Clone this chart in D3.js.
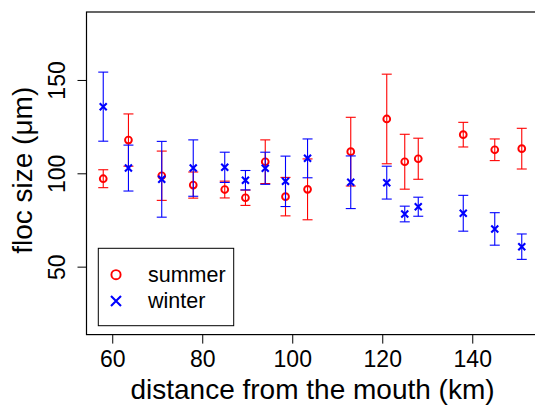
<!DOCTYPE html>
<html>
<head>
<meta charset="utf-8">
<script src="https://cdn.jsdelivr.net/npm/d3@7"></script>
<style>
  html, body { margin: 0; padding: 0; background: #fff; }
  svg { display: block; font-family: "Liberation Sans", Arial, Helvetica, sans-serif; }
</style>
</head>
<body>
<svg id="chart" width="535" height="406"></svg>
<script>
const distance = [58, 63.6, 71, 78, 85, 89.6, 94, 98.5, 103.4, 113, 121, 125, 128, 138, 145, 151];
const summerMean = [97.1, 117.8, 98.7, 93.7, 91.3, 86.9, 106.2, 87.5, 91.4, 111.6, 129.1, 106.2, 107.8, 120.7, 112.6, 113.2];
const summerErr  = [4.8, 14.0, 13.2, 7.0, 4.5, 4.1, 11.7, 10.3, 16.3, 18.4, 24.0, 14.7, 11.0, 6.6, 5.8, 10.9];
const winterMean = [135.7, 102.8, 96.8, 102.8, 103.2, 96.3, 102.7, 95.7, 108.0, 95.2, 95.0, 78.2, 82.1, 78.6, 70.2, 60.7];
const winterErr  = [18.5, 12.3, 20.3, 15.1, 8.1, 5.2, 8.6, 13.5, 10.4, 14.1, 8.8, 4.2, 5.1, 9.6, 8.7, 6.8];
const xTicks = [60, 80, 100, 120, 140];
const yTicks = [50, 100, 150];
const seriesNames = ["summer", "winter"];
const seriesColors = ["#ff0000", "#0000ff"];
const xTitle = "distance from the mouth (km)";
const yTitle = "floc size (\u03bcm)";

const svg = d3.select("#chart");
const plot = { left: 86.5, right: 538.5, top: 12, bottom: 334.6 };

const x = d3.scaleLinear().domain([54.28, 154.72]).range([plot.left, plot.right]);
const y = d3.scaleLinear().domain([13.6, 186.4]).range([plot.bottom, plot.top]);

function drawMarker(g, cx, cy, color, kind, size) {
  if (kind === "circle") {
    g.append("circle").attr("cx", cx).attr("cy", cy).attr("r", size)
      .attr("fill", "none").attr("stroke", color).attr("stroke-width", 1.9);
  } else {
    const s = size;
    g.append("path").attr("d", `M${cx - s},${cy - s}L${cx + s},${cy + s}M${cx - s},${cy + s}L${cx + s},${cy - s}`)
      .attr("fill", "none").attr("stroke", color).attr("stroke-width", 2.1);
  }
}

// error bars + points
function drawSeries(means, errs, color, kind) {
  const g = svg.append("g");
  const capHalf = 5;
  distance.forEach((d, i) => {
    const cx = x(d);
    const lo = y(means[i] - errs[i]);
    const hi = y(means[i] + errs[i]);
    g.append("line").attr("x1", cx).attr("x2", cx).attr("y1", lo).attr("y2", hi)
      .attr("stroke", color).attr("stroke-width", 1.1);
    g.append("line").attr("x1", cx - capHalf).attr("x2", cx + capHalf).attr("y1", lo).attr("y2", lo)
      .attr("stroke", color).attr("stroke-width", 1.1);
    g.append("line").attr("x1", cx - capHalf).attr("x2", cx + capHalf).attr("y1", hi).attr("y2", hi)
      .attr("stroke", color).attr("stroke-width", 1.1);
  });
  distance.forEach((d, i) => {
    drawMarker(g, x(d), y(means[i]), color, kind, kind === "circle" ? 3.4 : 3.5);
  });
}
drawSeries(summerMean, summerErr, seriesColors[0], "circle");
drawSeries(winterMean, winterErr, seriesColors[1], "cross");

// axes
const xAxis = svg.append("g").attr("transform", `translate(0,${plot.bottom})`)
  .call(d3.axisBottom(x).tickValues(xTicks).tickSize(9).tickPadding(7).tickFormat(d3.format("d")));
xAxis.attr("font-family", null);
xAxis.select(".domain").remove();
xAxis.selectAll("text").attr("font-size", 23).attr("fill", "#000");
xAxis.selectAll("line").attr("stroke", "#000");

const yAxis = svg.append("g").attr("transform", `translate(${plot.left},0)`)
  .call(d3.axisLeft(y).tickValues(yTicks).tickSize(9).tickFormat(d3.format("d")));
yAxis.attr("font-family", null);
yAxis.select(".domain").remove();
yAxis.selectAll("line").attr("stroke", "#000");
yAxis.selectAll("text")
  .attr("x", null).attr("dy", null)
  .attr("transform", "translate(-21.5,0) rotate(-90)")
  .attr("text-anchor", "middle")
  .attr("font-size", 23).attr("fill", "#000");

// plot box
svg.append("rect").attr("x", plot.left).attr("y", plot.top)
  .attr("width", plot.right - plot.left).attr("height", plot.bottom - plot.top)
  .attr("fill", "none").attr("stroke", "#000").attr("stroke-width", 1.2);

// titles
svg.append("text").attr("x", (plot.left + plot.right) / 2).attr("y", 399)
  .attr("text-anchor", "middle").attr("font-size", 28).text(xTitle);
svg.append("text").attr("transform", `translate(32,${(plot.top + plot.bottom) / 2 - 3}) rotate(-90)`)
  .attr("text-anchor", "middle").attr("font-size", 28).text(yTitle);

// legend
const lg = svg.append("g");
lg.append("rect").attr("x", 98.3).attr("y", 248.3).attr("width", 135.4).attr("height", 77.4)
  .attr("fill", "#fff").attr("stroke", "#000").attr("stroke-width", 1);
const legendY = [274.7, 301];
seriesNames.forEach((name, i) => {
  drawMarker(lg, 116, legendY[i], seriesColors[i], i === 0 ? "circle" : "cross", i === 0 ? 4.6 : 5);
  lg.append("text").attr("x", 148).attr("y", legendY[i] + 7).attr("font-size", 21.5).text(name);
});
</script>
</body>
</html>
